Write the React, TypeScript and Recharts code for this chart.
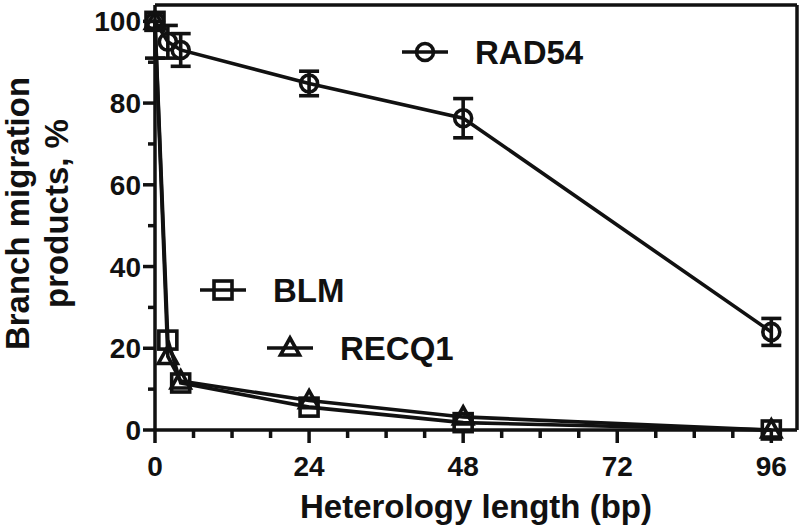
import { LineChart, Line, XAxis, YAxis, ErrorBar, ReferenceLine } from "recharts"

document.body.style.margin = "0"

const INK = "#111"
const FONT = "'Liberation Sans', Arial, sans-serif"

// heterology length (bp)
const heterology = [0, 2, 4, 24, 48, 96]
// branch migration products, %
const rad54 = [100, 95, 93, 84.8, 76.3, 24]
const rad54Err = [[9, 0], 4, 4, 3, 4.8, 3.3]
const blm = [100, 22, 11.5, 5.6, 1.8, 0]
const recq1 = [100, 18, 12, 7.2, 3.2, 0]

const xTicks = [0, 6, 12, 18, 24, 30, 36, 42, 48, 54, 60, 66, 72, 78, 84, 90, 96]
const xLabels = [0, 24, 48, 72, 96]
const yTicks = [0, 10, 20, 30, 40, 50, 60, 70, 80, 90, 100]
const yLabels = [0, 20, 40, 60, 80, 100]

const table = heterology.map((x, i) => ({
  x,
  rad54: rad54[i],
  rad54Err: rad54Err[i],
  blm: blm[i],
  recq1: recq1[i],
}))

const SW = 3.6

const circle = (cx, cy, key?) => (
  <circle key={key} cx={cx} cy={cy} r={8.5} fill="none" stroke={INK} strokeWidth={SW} />
)
const square = (cx, cy, key?) => (
  <rect key={key} x={cx - 9} y={cy - 9} width={18} height={18} fill="none" stroke={INK} strokeWidth={SW} />
)
const triangle = (cx, cy, key?) => (
  <polygon
    key={key}
    points={`${cx},${cy - 10} ${cx + 9.5},${cy + 7} ${cx - 9.5},${cy + 7}`}
    fill="none"
    stroke={INK}
    strokeWidth={SW}
  />
)

const XTick = ({ x, y, payload }) => {
  const major = xLabels.includes(payload.value)
  return (
    <g>
      <line x1={x} y1={y} x2={x} y2={y + (major ? 13 : 8)} stroke={INK} strokeWidth={3.5} />
      {major && (
        <text x={x} y={y + 46} textAnchor="middle" fontSize={28} fontWeight="bold" fontFamily={FONT} fill={INK}>
          {payload.value}
        </text>
      )}
    </g>
  )
}

const YTick = ({ x, y, payload }) => {
  const major = yLabels.includes(payload.value)
  return (
    <g>
      <line x1={x} y1={y} x2={x - (major ? 12 : 7)} y2={y} stroke={INK} strokeWidth={3.5} />
      {major && (
        <text x={x - 14} y={y + 10} textAnchor="end" fontSize={28} fontWeight="bold" fontFamily={FONT} fill={INK}>
          {payload.value}
        </text>
      )}
    </g>
  )
}

const YTitle = ({ viewBox }) => {
  const cy = viewBox.y + viewBox.height / 2 - 4
  const lines = [
    { text: "Branch migration", cx: viewBox.x + 17 },
    { text: "products, %", cx: viewBox.x + 56 },
  ]
  return (
    <g>
      {lines.map((l) => (
        <text
          key={l.text}
          x={l.cx}
          y={cy}
          transform={`rotate(-90, ${l.cx}, ${cy})`}
          textAnchor="middle"
          dominantBaseline="central"
          fontSize={33}
          fontWeight="bold"
          fontFamily={FONT}
          fill={INK}
        >
          {l.text}
        </text>
      ))}
    </g>
  )
}

const XTitle = ({ viewBox }) => (
  <text
    x={viewBox.x + viewBox.width / 2}
    y={viewBox.y + 88}
    textAnchor="middle"
    fontSize={33}
    fontWeight="bold"
    fontFamily={FONT}
    fill={INK}
  >
    Heterology length (bp)
  </text>
)

// legend entries drawn inside the plot, as in the figure
const legend = [
  { name: "RAD54", marker: circle, x: 402, y: 52 },
  { name: "BLM", marker: square, x: 200, y: 290 },
  { name: "RECQ1", marker: triangle, x: 267, y: 348 },
]

export default function App() {
  return (
    <div style={{ position: "relative", width: 800, height: 532, background: "#fff" }}>
      <LineChart width={800} height={532} data={table} margin={{ top: 5, right: 3, bottom: 2, left: 0 }}>
        <XAxis
          dataKey="x"
          type="number"
          domain={[0, 100]}
          ticks={xTicks}
          interval={0}
          height={100}
          tickSize={0}
          tickMargin={0}
          tickLine={false}
          tick={XTick}
          axisLine={{ stroke: INK, strokeWidth: 3.5 }}
          label={XTitle}
        />
        <YAxis
          type="number"
          domain={[0, 104]}
          ticks={yTicks}
          interval={0}
          width={155}
          tickSize={0}
          tickMargin={0}
          tickLine={false}
          tick={YTick}
          axisLine={{ stroke: INK, strokeWidth: 3.5 }}
          label={YTitle}
        />
        <ReferenceLine y={104} stroke={INK} strokeWidth={3.5} />
        <ReferenceLine x={100} stroke={INK} strokeWidth={3.5} />
        <Line
          dataKey="blm"
          type="linear"
          stroke={INK}
          strokeWidth={SW}
          dot={(p) => square(p.cx, p.cy, p.index)}
          isAnimationActive={false}
        />
        <Line
          dataKey="recq1"
          type="linear"
          stroke={INK}
          strokeWidth={SW}
          dot={(p) => triangle(p.cx, p.cy, p.index)}
          isAnimationActive={false}
        />
        <Line
          dataKey="rad54"
          type="linear"
          stroke={INK}
          strokeWidth={SW}
          dot={(p) => circle(p.cx, p.cy, p.index)}
          isAnimationActive={false}
        >
          <ErrorBar dataKey="rad54Err" direction="y" width={10} stroke={INK} strokeWidth={SW} />
        </Line>
      </LineChart>
      <svg width={800} height={532} style={{ position: "absolute", left: 0, top: 0, pointerEvents: "none" }}>
        {legend.map((l) => (
          <g key={l.name}>
            <line x1={l.x} y1={l.y} x2={l.x + 46} y2={l.y} stroke={INK} strokeWidth={SW} />
            {l.marker(l.x + 23, l.y)}
            <text
              x={l.x + 73}
              y={l.y + 12}
              fontSize={33}
              fontWeight="bold"
              fontFamily={FONT}
              fill={INK}
            >
              {l.name}
            </text>
          </g>
        ))}
      </svg>
    </div>
  )
}
